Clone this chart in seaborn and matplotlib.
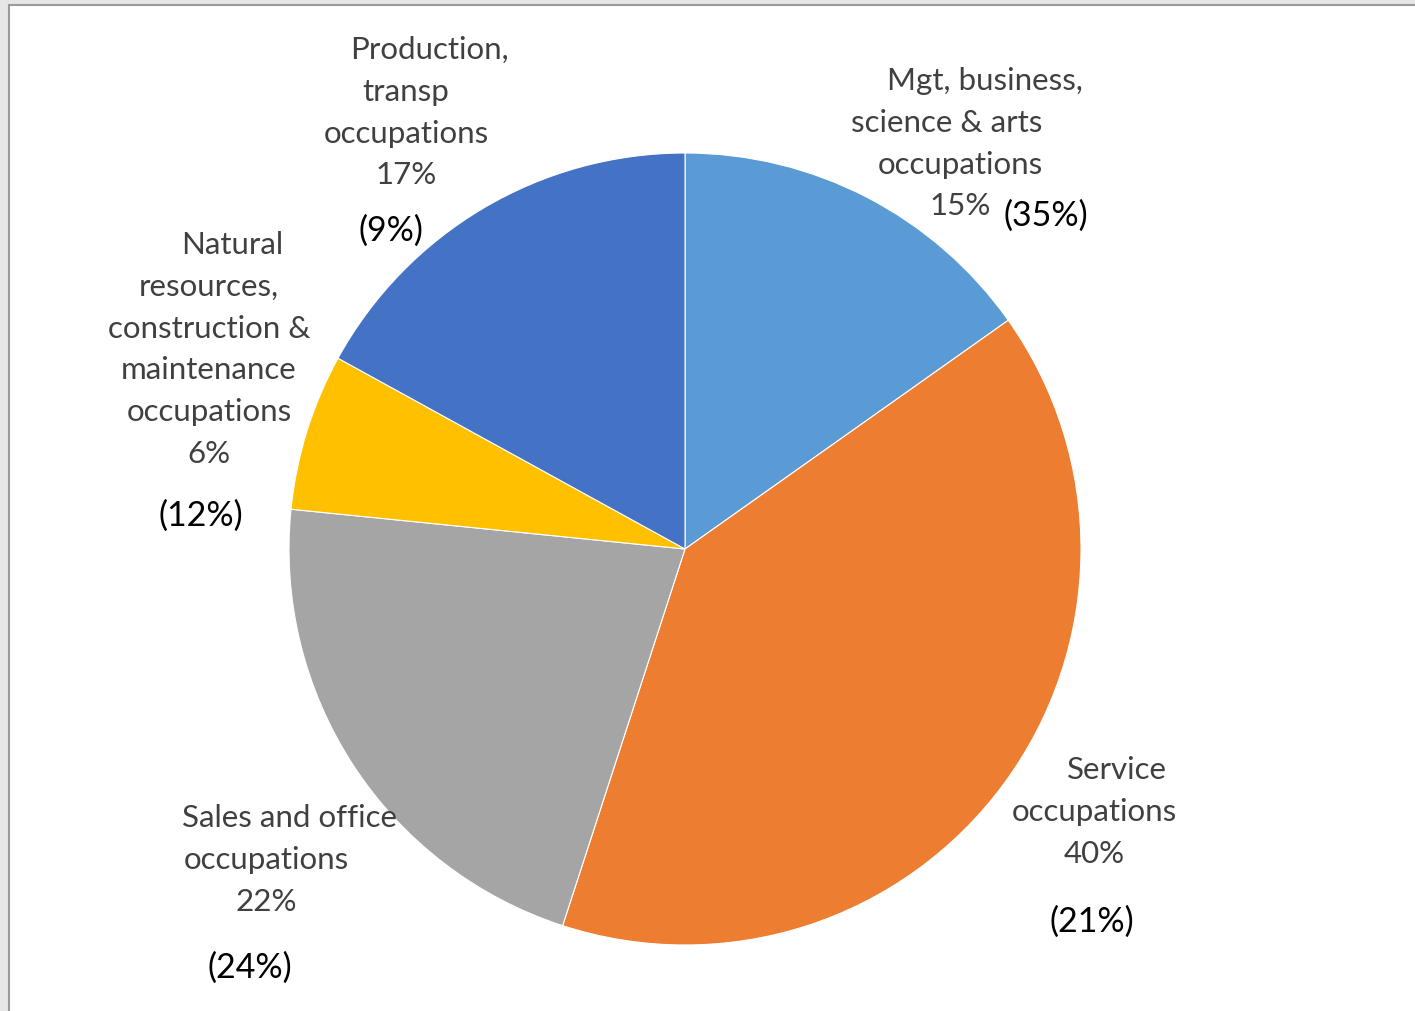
import matplotlib
matplotlib.use('Agg')
import matplotlib.pyplot as plt
from matplotlib.patches import Rectangle
import seaborn as sns

# Data (clockwise from 12 o'clock)
categories = ['Mgt, business,\nscience & arts\noccupations',
              'Service\noccupations',
              'Sales and office\noccupations',
              'Natural\nresources,\nconstruction &\nmaintenance\noccupations',
              'Production,\ntransp\noccupations']
shares = [15.2, 39.8, 21.6, 6.4, 17.0]
pct_labels = ['15%', '40%', '22%', '6%', '17%']
other_pct = ['(35%)', '(21%)', '(24%)', '(12%)', '(9%)']
colors = ['#5B9BD5', '#ED7D31', '#A5A5A5', '#FFC000', '#4472C4']

sns.set_theme(style='white')
plt.rcParams['font.family'] = ['Lato', 'DejaVu Sans']

W, H = 1415, 1012
fig = plt.figure(figsize=(W / 100, H / 100), dpi=100, facecolor='#e6e6e6')
ax = fig.add_axes([0, 0, 1, 1])
ax.set_facecolor('#e6e6e6')

# white chart area with thin gray frame
ax.add_patch(Rectangle((8.5, -5), W, H - 5.5 + 5, facecolor='white',
                       edgecolor='#9a9a9a', linewidth=1.5, zorder=0))

ax.pie(shares, colors=colors, startangle=90, counterclock=False,
       center=(685, H - 550), radius=396,
       wedgeprops=dict(edgecolor='white', linewidth=0.8))

ax.set_xlim(0, W)
ax.set_ylim(0, H)
ax.axis('off')

# label layout (pixel coords from top-left), first-line x shift
label_pos = [(960, 81), (1094, 770), (266, 818), (209, 245), (406, 50)]
first_dx = [25, 23, 23, 23, 23]
line_dx2 = [-13, 0, 0, 0, 0]
other_pos = [(1046, 216), (1092, 922), (250, 968), (201, 516), (391, 231)]
line_step = 41.8

for i, cat in enumerate(categories):
    lines = cat.split('\n') + [pct_labels[i]]
    cx, cy = label_pos[i]
    for j, line in enumerate(lines):
        dx = first_dx[i] if j == 0 else (line_dx2[i] if j == 1 else 0)
        ax.text(cx + dx, H - (cy + j * line_step), line, ha='center', va='center',
                fontsize=22.5, color='#404040')
    ox, oy = other_pos[i]
    ax.text(ox, H - oy, other_pct[i], ha='center', va='center',
            fontsize=24.5, color='black')

fig.savefig('out.png', dpi=100, facecolor=fig.get_facecolor())
